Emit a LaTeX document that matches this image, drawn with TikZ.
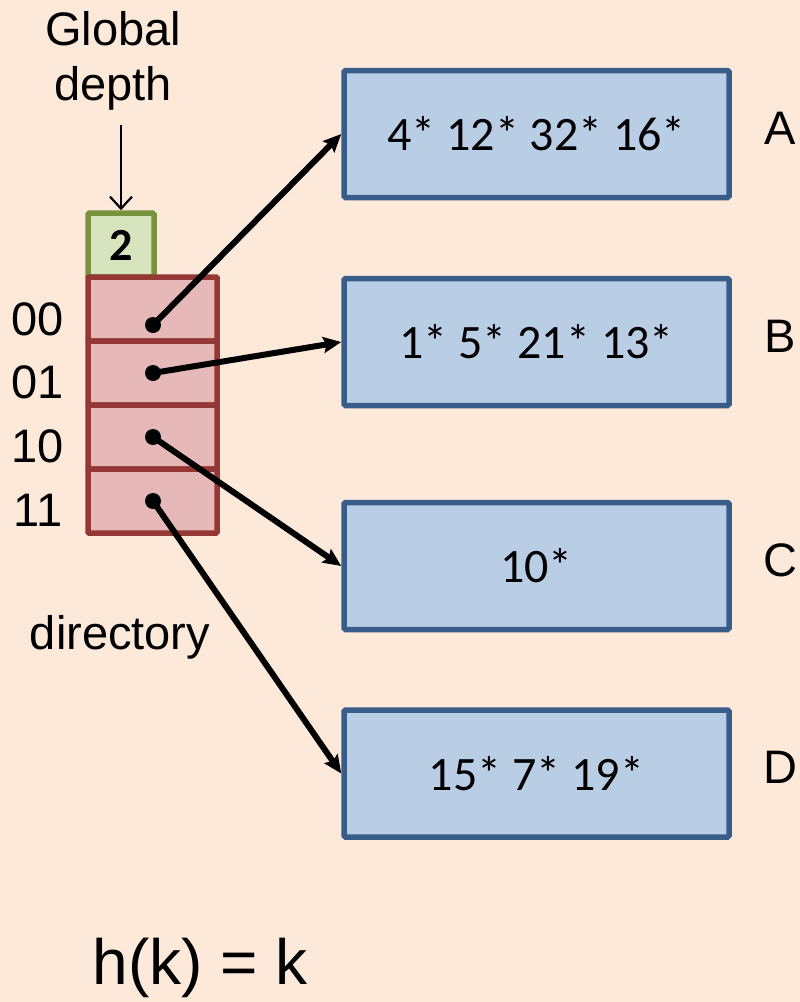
\documentclass[tikz,border=0pt]{standalone}
\usepackage{fontspec}
\setmainfont{Liberation Sans}
\newfontfamily\bodyfont{Carlito}
\usetikzlibrary{arrows.meta}
\definecolor{bgpeach}{HTML}{FDE9D9}
\definecolor{gdfill}{HTML}{D7E4BD}
\definecolor{gdline}{HTML}{77933C}
\definecolor{dirfill}{HTML}{E6B9B8}
\definecolor{dirline}{HTML}{953735}
\definecolor{bktfill}{HTML}{B9CDE5}
\definecolor{bktline}{HTML}{385D8A}
\tikzset{
  big/.style={font=\fontsize{47}{57}\selectfont},
  bucket/.style={draw=bktline, fill=bktfill, line width=5.5pt, rounded corners=1.5pt,
    minimum width=385pt, minimum height=127pt, inner sep=0pt,
    font=\bodyfont\fontsize{48}{56}\selectfont},
  cell/.style={draw=dirline, fill=dirfill, line width=5.5pt, rounded corners=1pt,
    minimum width=129pt, minimum height=64pt, inner sep=0pt},
  depthbox/.style={draw=gdline, fill=gdfill, line width=5.5pt, rounded corners=1.5pt,
    minimum width=66pt, minimum height=64pt, inner sep=0pt,
    font=\bodyfont\bfseries\fontsize{46}{50}\selectfont},
  ptr/.style={fill=black, circle, inner sep=0pt, minimum size=16pt},
  link/.style={line width=6pt, -{Stealth[length=18pt,width=16pt,inset=3pt]}, shorten <=-1pt},
  tag/.style={big, anchor=center}
}
\begin{document}
\begin{tikzpicture}[x=1pt,y=-1pt]
  \useasboundingbox (0,0) rectangle (800,1002);
  \fill[bgpeach] (0,0) rectangle (800,1002);

  % global depth label and marker
  \node[big, align=center, inner sep=0pt] (gdlabel) at (113,61) {Global\\[-2pt]depth};
  \node[depthbox] (gd) at (121,245) {2};
  \coordinate (gdtop) at (121,125);
  \draw[line width=2.2pt, -{Straight Barb[length=12pt,width=22pt,line width=2.2pt]}] (gdtop) -- (gd.north);

  % directory cells
  \node[cell] (d00) at (152.5,309) {};
  \node[cell] (d01) at (152.5,373) {};
  \node[cell] (d10) at (152.5,437) {};
  \node[cell] (d11) at (152.5,501) {};

  \node[tag] (l00) at (38,319) {00};
  \node[tag] (l01) at (38,382) {01};
  \node[tag] (l10) at (38,446) {10};
  \node[tag] (l11) at (38,510) {11};

  \node[big] (dirlabel) at (120,637) {directory};

  % pointers
  \node[ptr] (p00) at (153,325) {};
  \node[ptr] (p01) at (153,373) {};
  \node[ptr] (p10) at (153,437) {};
  \node[ptr] (p11) at (153,501) {};

  % buckets
  \node[bucket] (A) at (536.5,134) {4* 12* 32* 16*};
  \node[bucket] (B) at (536.5,342) {1* 5* 21* 13*};
  \node[bucket] (C) at (536.5,566) {10*};
  \node[bucket] (D) at (536.5,773.5) {15* 7* 19*};

  \node[tag] (nA) at (780,128) {A};
  \node[tag] (nB) at (780,336) {B};
  \node[tag] (nC) at (780,560) {C};
  \node[tag] (nD) at (780,767) {D};

  \draw[link] (p00.center) -- (A.west);
  \draw[link] (p01.center) -- (B.west);
  \draw[link] (p10.center) -- (C.west);
  \draw[link] (p11.center) -- (D.west);

  % hash function
  \node[font=\fontsize{64}{70}\selectfont] (hash) at (200,968) {h(k) = k};
\end{tikzpicture}
\end{document}
